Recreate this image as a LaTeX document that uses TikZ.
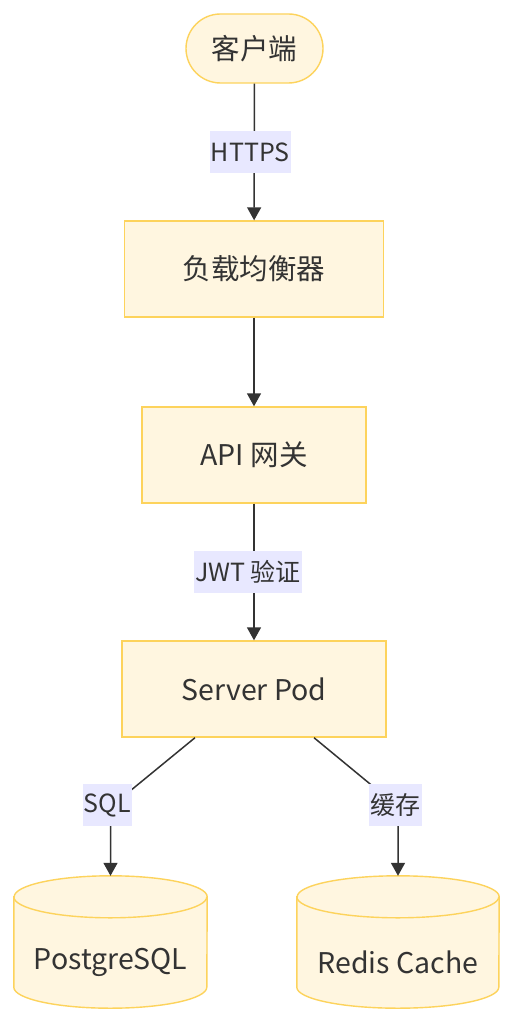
\documentclass[tikz,border=0pt]{standalone}
\usepackage{fontspec}
\setmainfont{Noto Sans CJK SC}
\usetikzlibrary{arrows.meta}
\definecolor{nodefill}{HTML}{FFF6E0}
\definecolor{nodeborder}{HTML}{FDD35C}
\definecolor{lblfill}{HTML}{E8E8FF}
\definecolor{ink}{HTML}{333333}
\tikzset{
  box/.style={draw=nodeborder, fill=nodefill, line width=1.4pt, text=ink, font=\fontsize{28.5}{32}\selectfont, inner sep=0pt},
  lbl/.style={fill=lblfill, text=ink, font=\fontsize{25}{28}\selectfont, inner sep=0pt, inner xsep=1pt, minimum height=42pt},
  conn/.style={draw=ink, line width=1.5pt, -{Triangle[length=13pt,width=14pt]}},
  dbtext/.style={text=ink, font=\fontsize{28.5}{32}\selectfont},
  cyl/.style={draw=nodeborder, fill=nodefill, line width=1.4pt},
}
\begin{document}
\begin{tikzpicture}[x=1pt,y=1pt]
\useasboundingbox (0,0) rectangle (513,-1024);
\fill[white] (0,0) rectangle (513,-1024);

\node[box, rounded corners=34.5pt, minimum width=137pt, minimum height=69pt] (client) at (254.5,-48.5) {客户端};
\node[box, minimum width=259pt, minimum height=96pt] (lb) at (254,-269) {负载均衡器};
\node[box, minimum width=224pt, minimum height=96pt] (api) at (254,-455) {API 网关};
\node[box, minimum width=264pt, minimum height=96pt] (srv) at (254,-689) {Server Pod};

% cylinders
\node[minimum width=193pt, minimum height=132pt, inner sep=0pt] (pg) at (110.5,-942) {};
\node[minimum width=202pt, minimum height=132pt, inner sep=0pt] (rc) at (398,-942) {};
\path[cyl] (pg.north west) ++(0,-21) -- ([yshift=21pt]pg.south west) arc[start angle=180,end angle=360,x radius=96.5,y radius=21] -- ([yshift=-21pt]pg.north east) arc[start angle=0,end angle=180,x radius=96.5,y radius=21] -- cycle;
\draw[draw=nodeborder, line width=1.4pt] ([yshift=-21pt]pg.north west) arc[start angle=180,end angle=360,x radius=96.5,y radius=21];
\path[cyl] (rc.north west) ++(0,-21) -- ([yshift=21pt]rc.south west) arc[start angle=180,end angle=360,x radius=101,y radius=21] -- ([yshift=-21pt]rc.north east) arc[start angle=0,end angle=180,x radius=101,y radius=21] -- cycle;
\draw[draw=nodeborder, line width=1.4pt] ([yshift=-21pt]rc.north west) arc[start angle=180,end angle=360,x radius=101,y radius=21];
\node[dbtext] (pgtext) at ([yshift=-20pt]pg.center) {PostgreSQL};
\node[dbtext] (rctext) at ([yshift=-20pt]rc.center) {Redis Cache};

% connectors
\draw[conn] (client) -- node[lbl, xshift=-4pt] (l1) {HTTPS} (lb);
\draw[conn] (lb) -- (api);
\draw[conn] (api) -- node[lbl, xshift=-6pt] (l2) {JWT 验证} (srv);
\draw[conn] ([xshift=-59pt]srv.south) -- (pg.north |- 0,-807) -- (pg.north);
\draw[conn] ([xshift=60pt]srv.south) -- (rc.north |- 0,-807) -- (rc.north);
\node[lbl, minimum width=49pt] (l3) at (107.5,-805) {SQL};
\node[lbl, minimum width=53pt] (l4) at (395.5,-805) {缓存};
\end{tikzpicture}
\end{document}
